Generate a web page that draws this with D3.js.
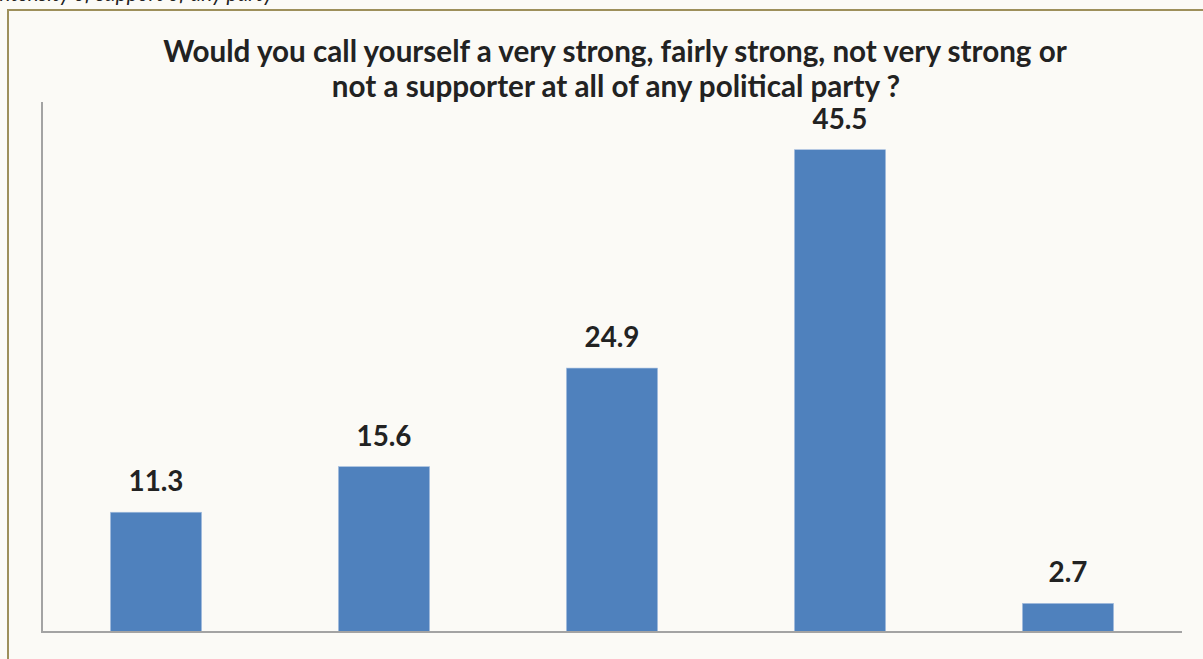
<!DOCTYPE html>
<html>
<head>
<meta charset="utf-8">
<script src="https://cdn.jsdelivr.net/npm/d3@7"></script>
<style>
  html, body { margin: 0; padding: 0; background: #fbfaf6; }
  svg { display: block; }
</style>
</head>
<body>
<svg id="chart" width="1203" height="659"></svg>
<script>
const categories = ["Very strong", "Fairly strong", "Not very strong", "Not a supporter at all", "Don't know"];
const values = [11.3, 15.6, 24.9, 45.5, 2.7];
const titleLines = [
  "Would you call yourself a very strong, fairly strong, not very strong or",
  "not a supporter at all of any political party ?"
];
const captionText = "Intensity of support of any party";

const svg = d3.select("#chart");
const W = 1203, H = 659;

svg.append("rect").attr("width", W).attr("height", H).attr("fill", "#fbfaf6");

// cut-off caption above frame (only its lower part is visible, as in the reference)
svg.append("text")
  .attr("x", -6).attr("y", 1)
  .attr("font-family", "Lato, 'Open Sans', sans-serif")
  .attr("font-style", "italic")
  .attr("font-size", 21)
  .attr("fill", "#222")
  .text(captionText);

// frame
svg.append("rect")
  .attr("x", 8).attr("y", 10)
  .attr("width", W + 20).attr("height", H + 20)
  .attr("fill", "#fbfaf6")
  .attr("stroke", "#9d8f5b").attr("stroke-width", 2);

const plot = { left: 42, right: 1182, top: 102, bottom: 632 };

const x = d3.scaleBand()
  .domain(categories)
  .range([plot.left, plot.right])
  .paddingInner(0.6)
  .paddingOuter(0.3);

const y = d3.scaleLinear().domain([0, 50]).range([plot.bottom, plot.top]);

// title
const title = svg.append("text")
  .attr("text-anchor", "middle")
  .attr("font-family", "Lato, 'Open Sans', sans-serif")
  .attr("font-weight", "bold")
  .attr("fill", "#222");
const t1 = title.append("tspan").attr("x", 615).attr("y", 62).text(titleLines[0]);
title.append("tspan").attr("x", 616).attr("y", 97).text(titleLines[1]);
title.attr("font-size", 24);
let w1 = t1.node().getComputedTextLength();
title.attr("font-size", 24 * 904 / w1);

// bars
svg.append("g").selectAll("rect")
  .data(values)
  .join("rect")
  .attr("x", (d, i) => x(categories[i]))
  .attr("width", x.bandwidth())
  .attr("y", d => y(d))
  .attr("height", d => y(0) - y(d))
  .attr("fill", "#4f81bd")
  .attr("stroke", "#a9c1e0")
  .attr("stroke-width", 0.6);

// axes
const xAxis = d3.axisBottom(x).tickSize(0).tickFormat("");
const gx = svg.append("g").attr("transform", `translate(0,${plot.bottom})`).call(xAxis);
gx.select(".domain").attr("stroke", "#a3a3a3").attr("stroke-width", 2).attr("d", `M${plot.left},0H${plot.right}`);

const yAxis = d3.axisLeft(y).tickSize(0).tickFormat("").ticks(0);
const gy = svg.append("g").attr("transform", `translate(${plot.left},0)`).call(yAxis);
gy.select(".domain").attr("stroke", "#a3a3a3").attr("stroke-width", 2).attr("d", `M0,${plot.top}V${plot.bottom + 1}`);

// labels
const labels = svg.append("g")
  .attr("font-family", "Lato, 'Open Sans', sans-serif")
  .attr("font-weight", "bold")
  .attr("fill", "#222")
  .attr("text-anchor", "middle")
  .attr("font-size", 24);
const lt = labels.selectAll("text")
  .data(values)
  .join("text")
  .attr("x", (d, i) => x(categories[i]) + x.bandwidth() / 2)
  .attr("y", d => y(d) - 21)
  .text(d => d.toFixed(1));
const wl = lt.nodes()[3].getComputedTextLength();
labels.attr("font-size", 24 * 55 / wl);
</script>
</body>
</html>
